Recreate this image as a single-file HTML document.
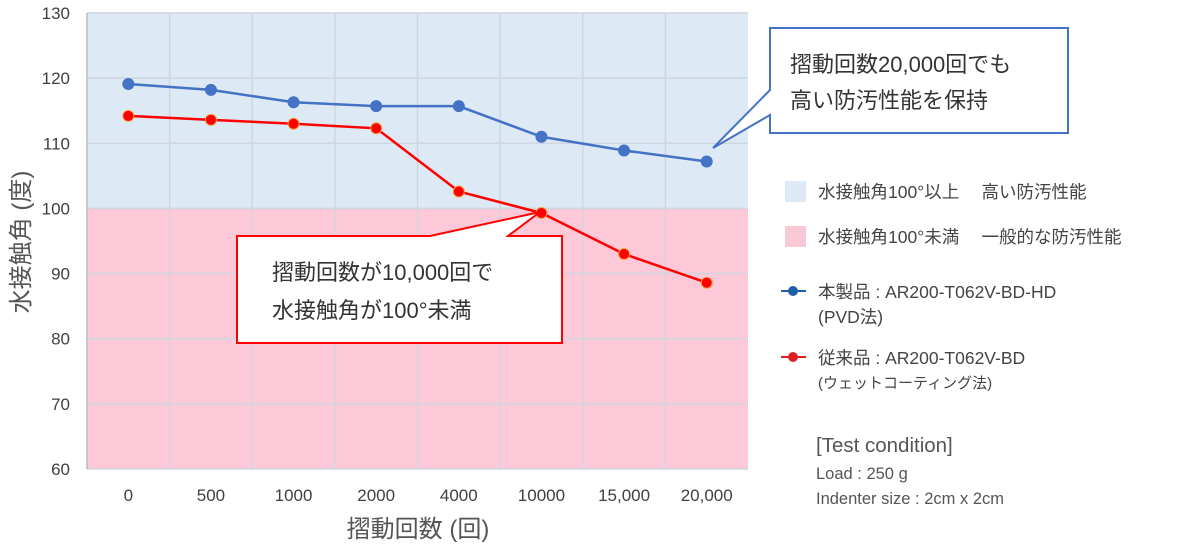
<!DOCTYPE html>
<html><head><meta charset="utf-8"><style>
body{margin:0;background:#fff;}
svg text{font-family:"Liberation Sans","Noto Sans CJK JP",sans-serif;}
</style></head><body>
<svg width="1200" height="545" xmlns="http://www.w3.org/2000/svg">
<g id="plot"></g>
<g>
<path d="M770,28 H1068 V133 H770 V115 L713,148 L770,90 Z" fill="#fff" stroke="#4472c4" stroke-width="2"/>
<text x="790" y="72" font-size="22" fill="#333">摺動回数20,000回でも</text>
<text x="790" y="108" font-size="22" fill="#333">高い防汚性能を保持</text>
</g>
<g>
<path d="M237,236 H430 L540,212 L508,236 H562 V343 H237 Z" fill="#fff" stroke="#ff0000" stroke-width="2"/>
<text x="272" y="280" font-size="22" fill="#333">摺動回数が10,000回で</text>
<text x="272" y="318" font-size="22" fill="#333">水接触角が100°未満</text>
</g>
<g font-size="17.5" fill="#444">
<rect x="785" y="181" width="21" height="21" fill="#dde9f5"/>
<text x="818" y="198" fill="#444">水接触角100°以上　 高い防汚性能</text>
<rect x="785" y="226" width="21" height="21" fill="#f9c9d6"/>
<text x="818" y="243" fill="#444">水接触角100°未満　 一般的な防汚性能</text>
<line x1="781" y1="291" x2="806" y2="291" stroke="#1f5fa8" stroke-width="2"/><circle cx="793" cy="291" r="5" fill="#1f5fa8"/>
<text x="818" y="298" fill="#444">本製品 : AR200-T062V-BD-HD</text>
<text x="818" y="323" fill="#444">(PVD法)</text>
<line x1="781" y1="357" x2="806" y2="357" stroke="#e02020" stroke-width="2"/><circle cx="793" cy="357" r="5" fill="#e02020"/>
<text x="818" y="364" fill="#444">従来品 : AR200-T062V-BD</text>
<text x="818" y="388" font-size="15" fill="#444">(ウェットコーティング法)</text>
<text x="816" y="452" font-size="20.5" fill="#555">[Test condition]</text>
<text x="816" y="479" font-size="16.5" fill="#555">Load : 250 g</text>
<text x="816" y="504" font-size="16.5" fill="#555">Indenter size : 2cm x 2cm</text>
</g>
<text transform="translate(29,242) rotate(-90)" text-anchor="middle" font-size="24" fill="#555">水接触角 (度)</text>
<text x="418" y="537" text-anchor="middle" font-size="24" fill="#555">摺動回数 (回)</text>
</svg>
<script>
const categories=["0","500","1000","2000","4000","10000","15,000","20,000"];
const productValues=[119.1,118.2,116.3,115.7,115.7,111.0,108.9,107.2];
const legacyValues=[114.2,113.6,113.0,112.3,102.6,99.3,93.0,88.6];
const yTicks=[60,70,80,90,100,110,120,130];
const threshold=100;
const NS="http://www.w3.org/2000/svg";
const L=87,R=748,T=13,B=469,yMin=60,yMax=130;
const band=(R-L)/categories.length;
const x=i=>L+band*(i+0.5);
const y=v=>B-(v-yMin)/(yMax-yMin)*(B-T);
const g=document.getElementById('plot');
function mk(t,a){const e=document.createElementNS(NS,t);for(const k in a)e.setAttribute(k,a[k]);g.appendChild(e);return e;}
let e=mk('rect',{x:L,y:T,width:R-L,height:y(threshold)-T,fill:'#dde9f5'});


e=mk('rect',{x:L,y:y(threshold),width:R-L,height:B-y(threshold),fill:'#fdc9d8'});


yTicks.forEach(v=>{
 e=mk('line',{x1:L,x2:R,y1:y(v),y2:y(v),stroke:'#cfd6e0','stroke-width':1.5});
 
 
 e=mk('text',{x:L-17,y:y(v)+6,'text-anchor':'end','font-size':17,fill:'#404040'});e.textContent=v;
 
 
});
for(let i=1;i<categories.length;i++){
 e=mk('line',{x1:L+band*i,x2:L+band*i,y1:T,y2:B,stroke:'#cfd6e0','stroke-width':1.5});
 
 
}
e=mk('line',{x1:L,x2:L,y1:T,y2:B,stroke:'#bbb','stroke-width':1.5});


categories.forEach((c,i)=>{
 e=mk('text',{x:x(i),y:B+32,'text-anchor':'middle','font-size':17,fill:'#404040'});e.textContent=c;
 
 
});
function series(vals,col,fill,stroke,name){
 e=mk('polyline',{points:vals.map((v,i)=>x(i)+','+y(v)).join(' '),fill:'none',stroke:col,'stroke-width':2.5});
 
 
 vals.forEach((v,i)=>{
  e=mk('circle',{cx:x(i),cy:y(v),r:5.5,fill:fill,stroke:stroke,'stroke-width':1});
  
  
 });
}
series(productValues,'#4472c4','#4472c4','#4472c4','product');
series(legacyValues,'#ff0000','#ff0000','#f4a040','legacy');
</script>
</body></html>
